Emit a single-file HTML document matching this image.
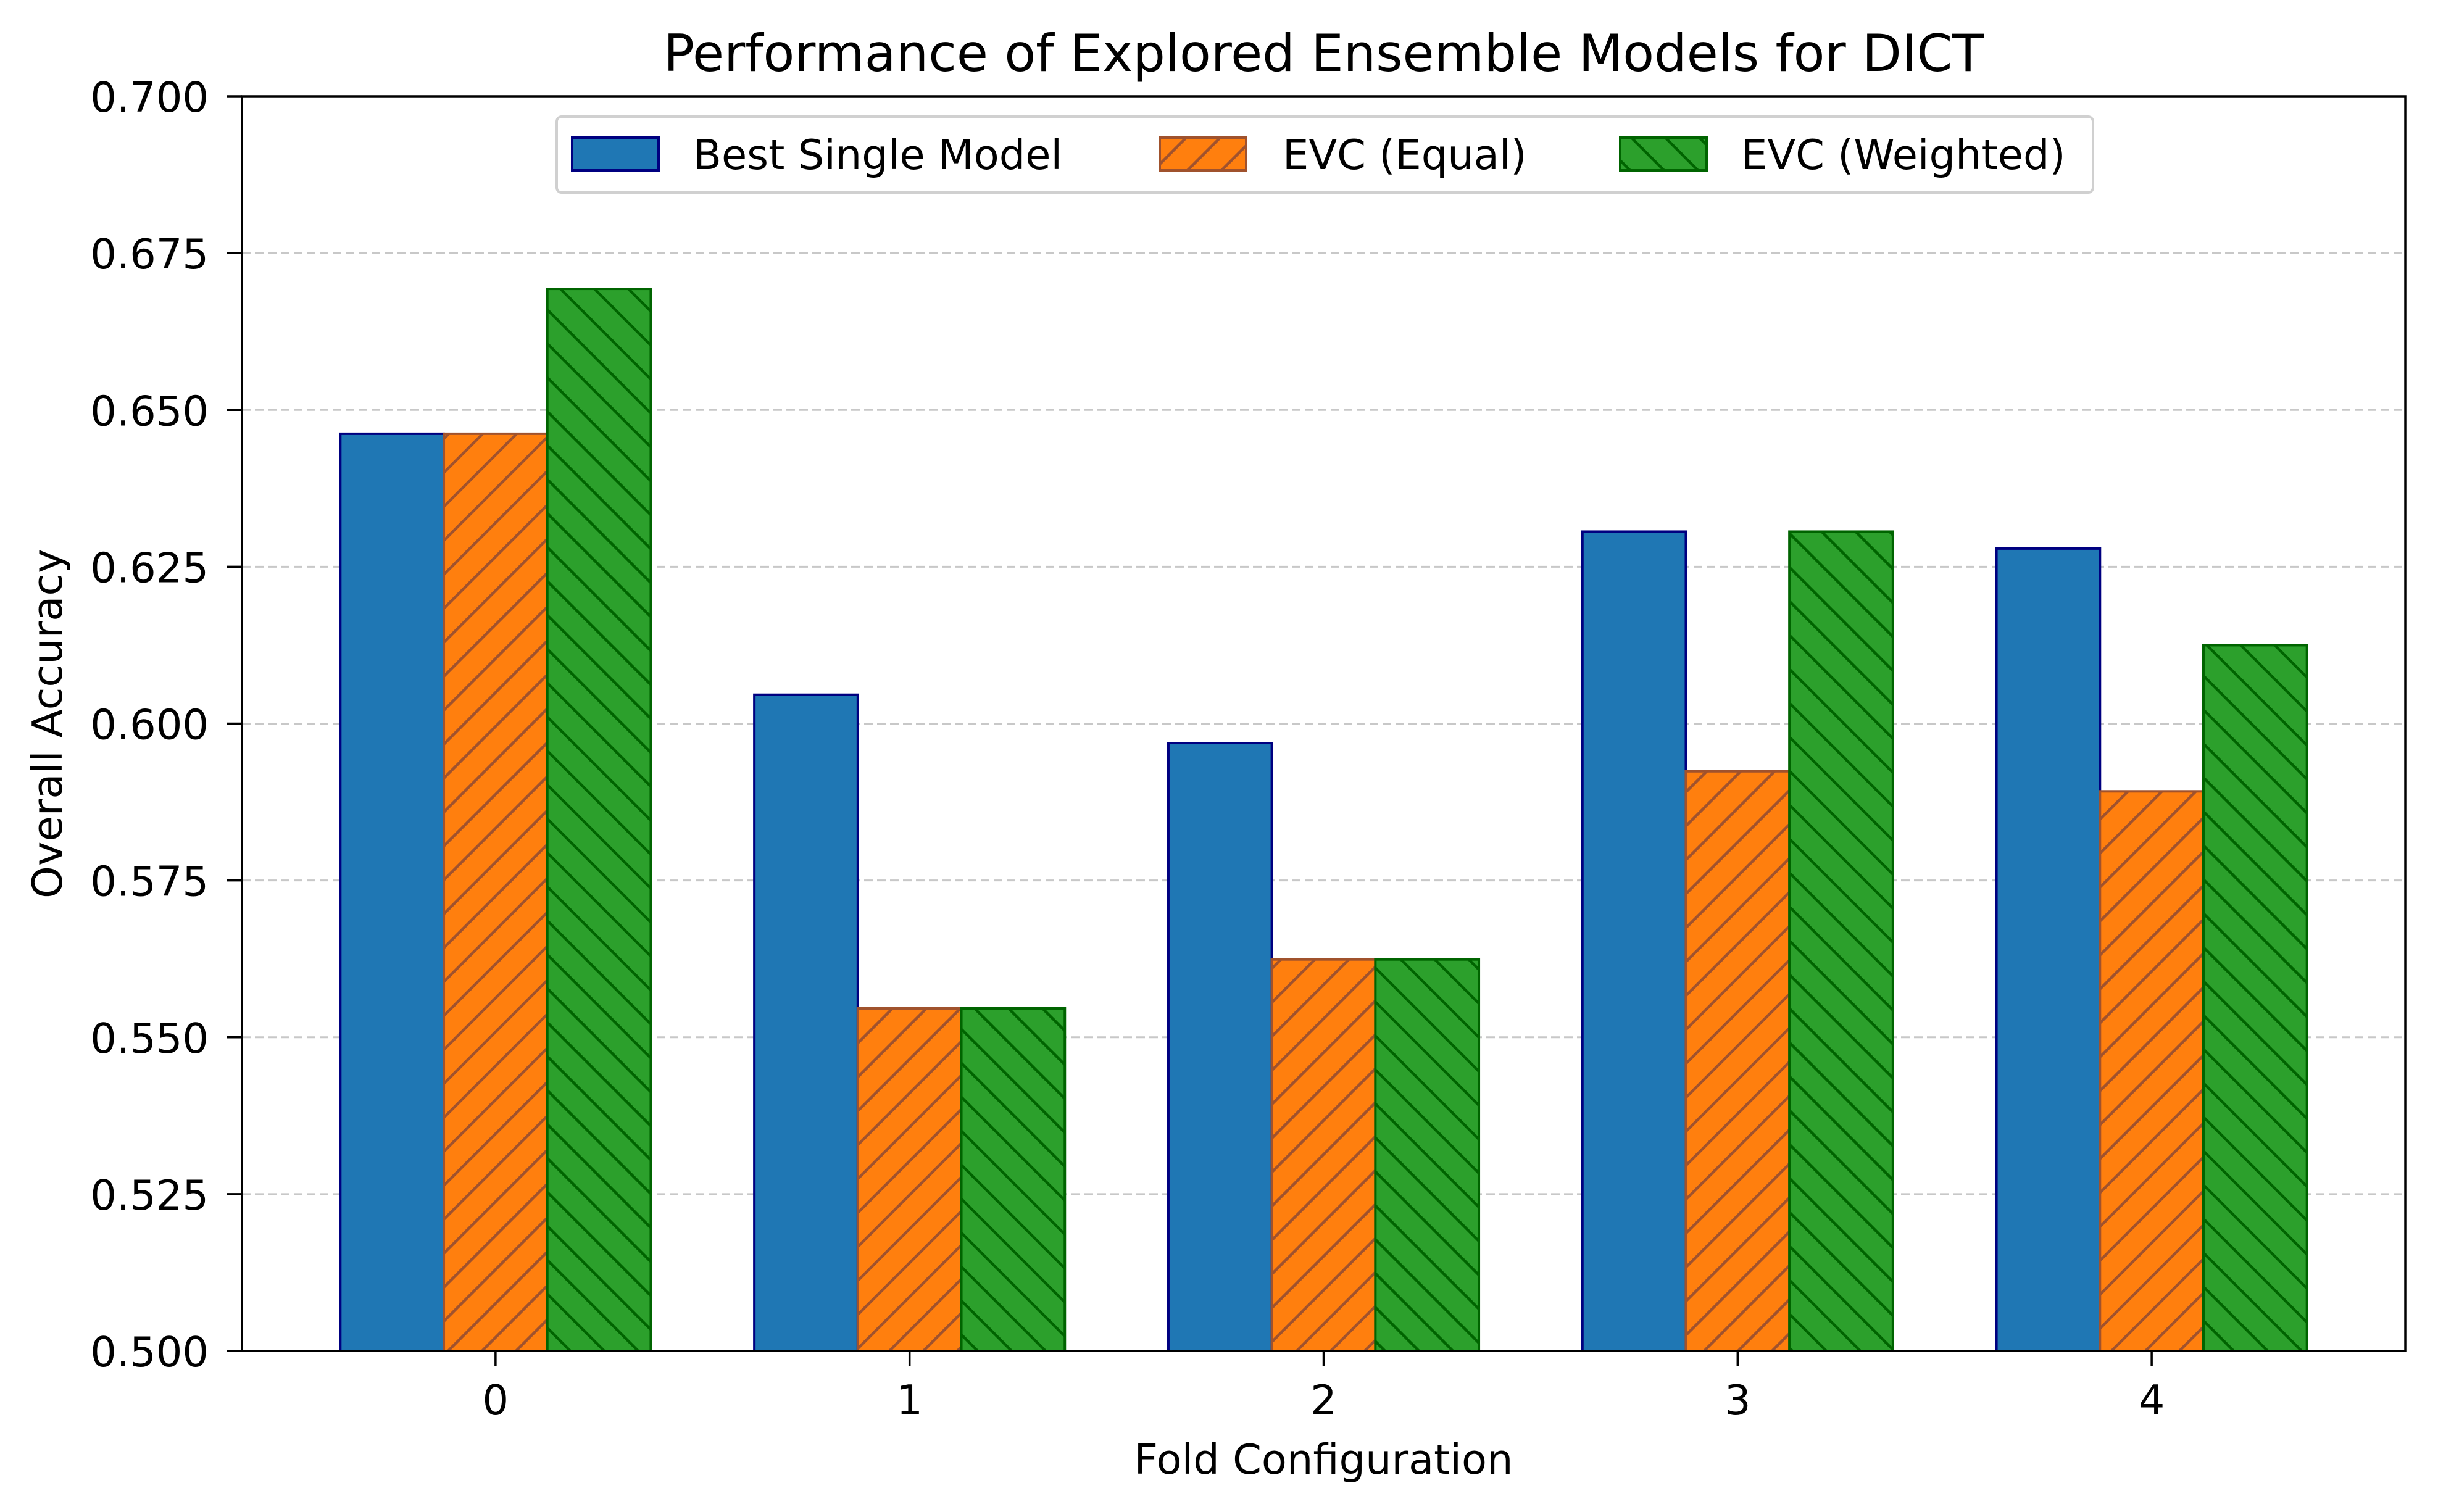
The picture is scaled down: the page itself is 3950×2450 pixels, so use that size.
<!DOCTYPE html>
<html><head><meta charset="utf-8"><style>
html,body{margin:0;padding:0;background:#fff;}
svg{display:block;font-family:"DejaVu Sans","Liberation Sans",sans-serif;}
</style></head><body>
<svg id="chart" width="3950" height="2450" viewBox="0 0 3950 2450" xmlns="http://www.w3.org/2000/svg">
<defs>
<pattern id="hatchFwd" patternUnits="userSpaceOnUse" width="55" height="55">
<rect width="55" height="55" fill="#ff7f0e"/>
<path d="M-14,14 L14,-14 M0,55 L55,0 M41,69 L69,41" stroke="#a0522d" stroke-width="4.5"/>
</pattern>
<pattern id="hatchBack" patternUnits="userSpaceOnUse" width="55" height="55">
<rect width="55" height="55" fill="#2ca02c"/>
<path d="M-14,41 L14,69 M0,0 L55,55 M41,-14 L69,14" stroke="#006400" stroke-width="4.5"/>
</pattern>
</defs>
<g id="grid"></g>
<g id="bars"></g>
<g id="axes"></g>
</svg>
<script>
const categories = ["0","1","2","3","4"];
const bestSingle = [0.6462, 0.6046, 0.5969, 0.6306, 0.6279];
const evcEqual = [0.6462, 0.5546, 0.5624, 0.5924, 0.5892];
const evcWeighted = [0.6693, 0.5546, 0.5624, 0.6306, 0.6125];
const yTicks = [0.500,0.525,0.550,0.575,0.600,0.625,0.650,0.675,0.700];
const yTickLabels = ["0.500","0.525","0.550","0.575","0.600","0.625","0.650","0.675","0.700"];

const NS="http://www.w3.org/2000/svg";
const L=392,R=3897,T=156,B=2189;
const xMin=-0.6125,xMax=4.6125,yMin=0.5,yMax=0.7;
function xs(v){return L+(v-xMin)/(xMax-xMin)*(R-L);}
function ys(v){return B-(v-yMin)/(yMax-yMin)*(B-T);}
function mk(tag,attrs,parent,text){const e=document.createElementNS(NS,tag);for(const k in attrs)e.setAttribute(k,attrs[k]);if(text!==undefined)e.textContent=text;parent.appendChild(e);return e;}
const grid=document.getElementById('grid'),bars=document.getElementById('bars'),axes=document.getElementById('axes');
const svg=document.getElementById('chart');

yTicks.forEach((t,i)=>{
  if(i>0&&i<yTicks.length-1){
    const g=mk('line',{x1:L,x2:R,y1:ys(t),y2:ys(t),stroke:'#c8c8c8','stroke-width':3,'stroke-dasharray':'14 7'},grid);
    
    
  }
  const tk=mk('line',{x1:L-24,x2:L,y1:ys(t),y2:ys(t),stroke:'#000','stroke-width':3.5},axes);
  
  
  const lb=mk('text',{x:L-54,y:ys(t)+25,'text-anchor':'end','font-size':67,fill:'#000'},axes,yTickLabels[i]);
  
  
});

const series=[
 {vals:bestSingle,fill:'#1f77b4',stroke:'#000080',name:'best-single'},
 {vals:evcEqual,fill:'url(#hatchFwd)',stroke:'#a0522d',name:'evc-equal'},
 {vals:evcWeighted,fill:'url(#hatchBack)',stroke:'#006400',name:'evc-weighted'}
];
const w=0.25;
series.forEach((s,si)=>{
  s.vals.forEach((v,ci)=>{
    const x0=xs(ci+(si-1)*w-w/2),x1=xs(ci+(si-1)*w+w/2);
    const r=mk('rect',{x:x0,y:ys(v),width:x1-x0,height:B-ys(v),fill:s.fill,stroke:s.stroke,'stroke-width':4},bars);
    
    
  });
});

categories.forEach((c,i)=>{
  const tk=mk('line',{x1:xs(i),x2:xs(i),y1:B,y2:B+24,stroke:'#000','stroke-width':3.5},axes);
  
  
  const lb=mk('text',{x:xs(i),y:2292,'text-anchor':'middle','font-size':67,fill:'#000'},axes,c);
  
  
});
const frame=mk('rect',{x:L,y:T,width:R-L,height:B-T,fill:'none',stroke:'#000','stroke-width':3.5},axes);



const title=mk('text',{x:(L+R)/2,y:115,'text-anchor':'middle','font-size':83,fill:'#000'},svg,'Performance of Explored Ensemble Models for DICT');


const xl=mk('text',{x:(L+R)/2,y:2388,'text-anchor':'middle','font-size':67,fill:'#000'},svg,'Fold Configuration');


const yl=mk('text',{x:100,y:(T+B)/2,'text-anchor':'middle','font-size':67,fill:'#000',transform:'rotate(-90 100 '+((T+B)/2)+')'},svg,'Overall Accuracy');



const leg=mk('g',{},svg);


const lb=mk('rect',{x:902,y:189,width:2489,height:123,rx:8,fill:'#fff','fill-opacity':0.8,stroke:'#d0d0d0','stroke-width':4},leg);


const entries=[{hx:927,tx:1123,label:'Best Single Model'},{hx:1879,tx:2078,label:'EVC (Equal)'},{hx:2625,tx:2821,label:'EVC (Weighted)'}];
entries.forEach((e,i)=>{
  const p=mk('rect',{x:e.hx,y:223,width:140,height:53,fill:series[i].fill,stroke:series[i].stroke,'stroke-width':4},leg);
  
  
  const t=mk('text',{x:e.tx,y:274,'font-size':67,fill:'#000'},leg,e.label);
  
  
});
</script>
</body></html>
